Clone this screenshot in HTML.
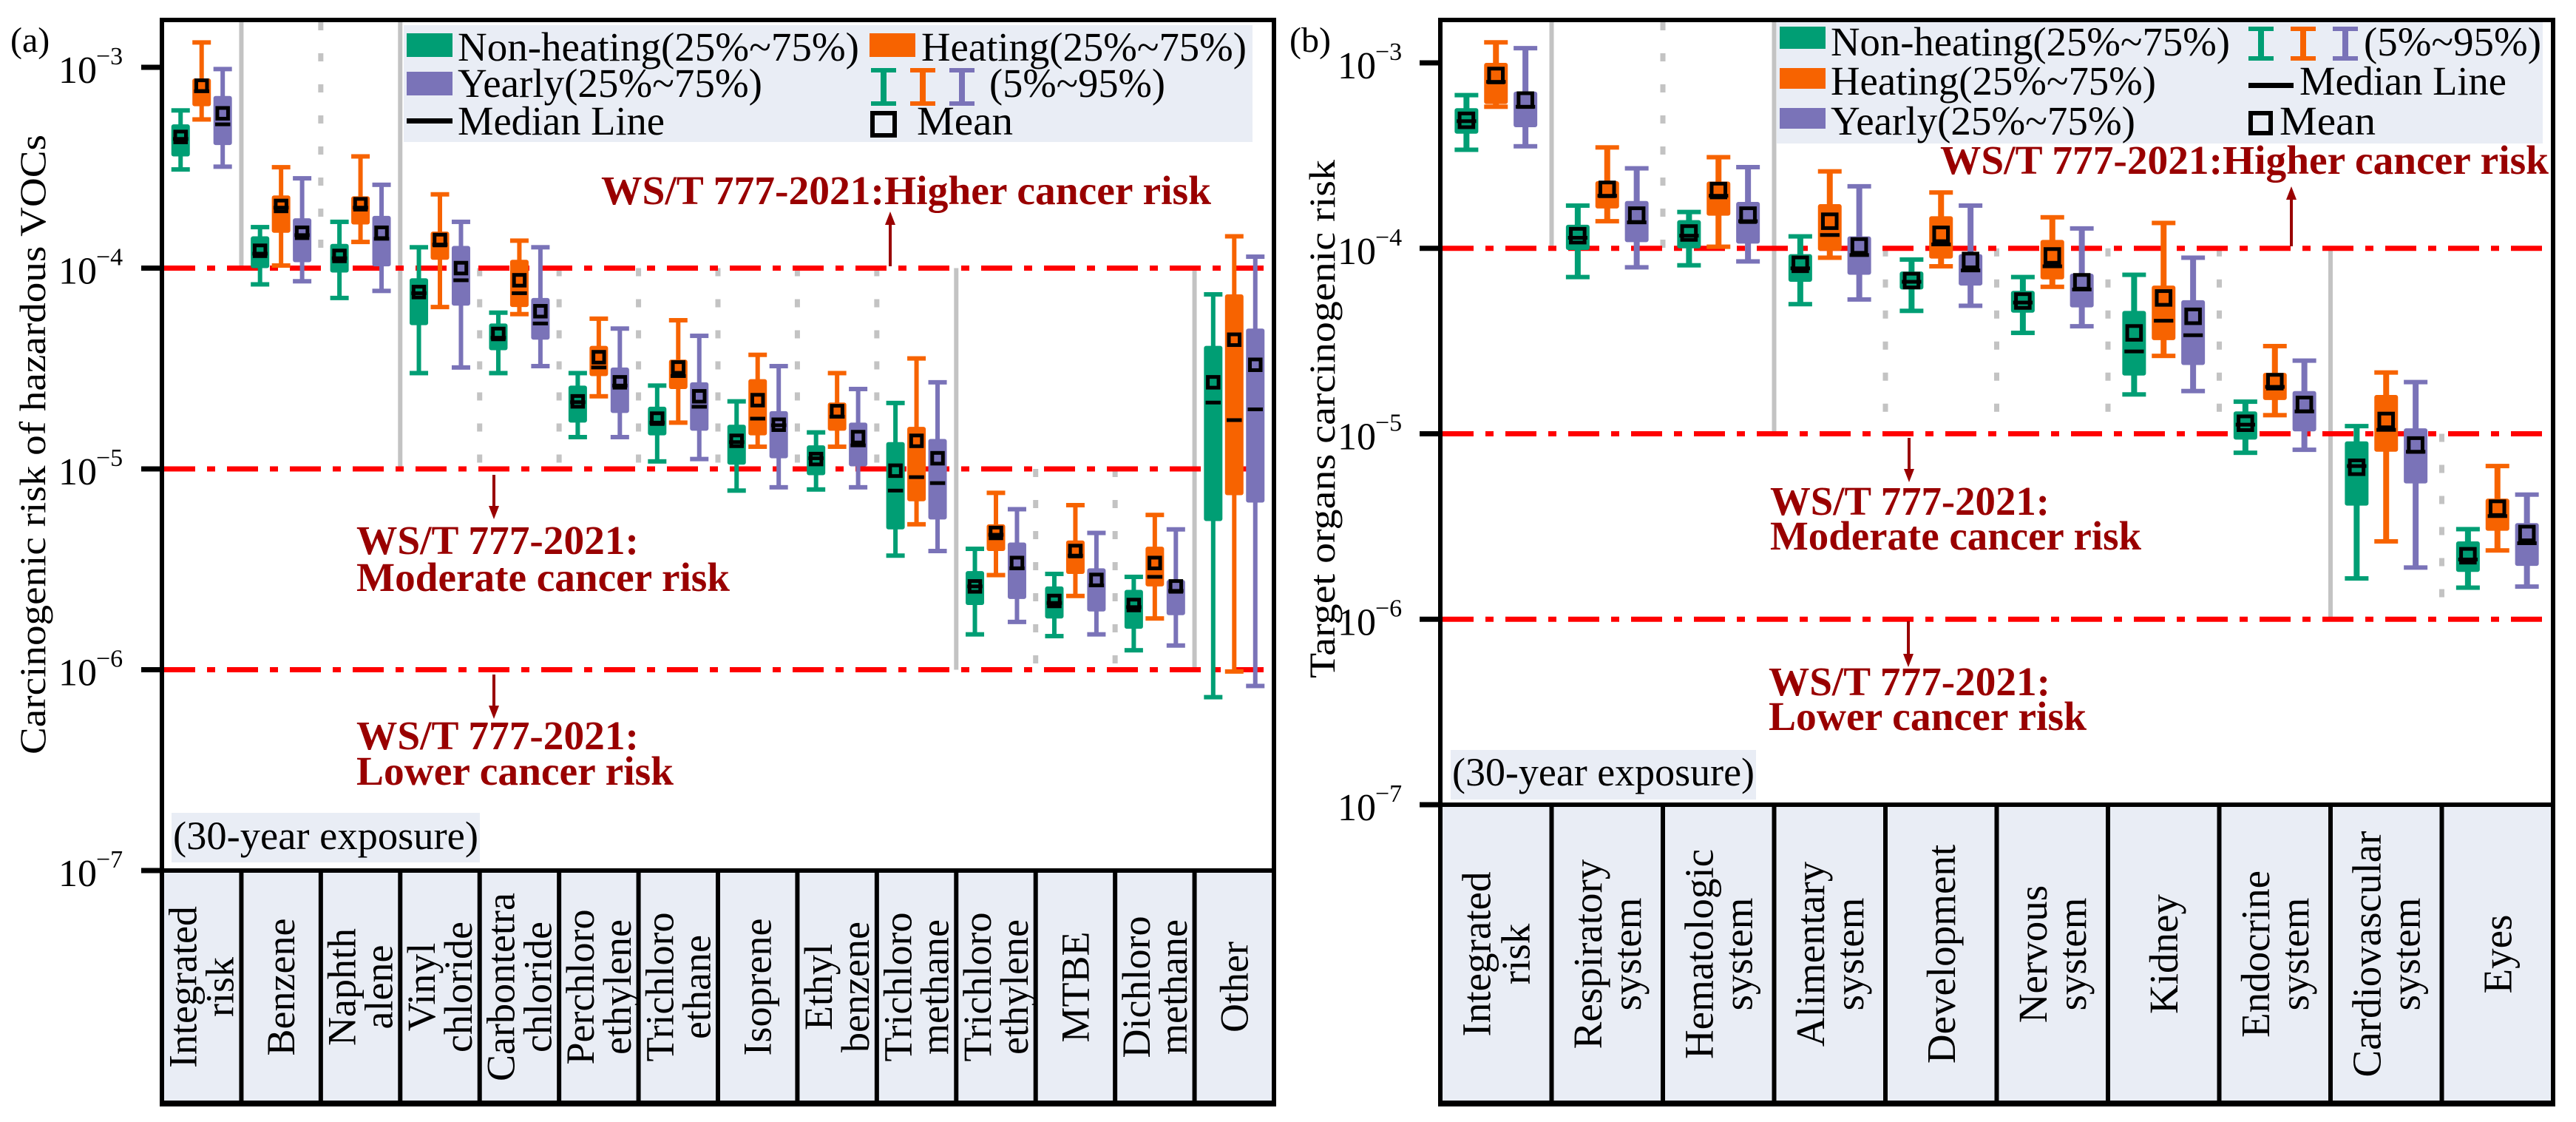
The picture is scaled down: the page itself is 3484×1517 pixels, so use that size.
<!DOCTYPE html>
<html><head><meta charset="utf-8"><title>Carcinogenic risk box plots</title>
<style>
html,body{margin:0;padding:0;background:#fff;}
svg{display:block;}
svg text{font-family:"Liberation Serif","Times New Roman",serif;}
</style></head>
<body>
<svg id="fig" xmlns="http://www.w3.org/2000/svg" width="3484" height="1517" viewBox="0 0 3484 1517" font-family="Liberation Serif, serif">
  <rect x="0" y="0" width="3484" height="1517" fill="#fff"/>
  <g id="panelA"></g>
  <g id="panelB"></g>
</svg>
<script>
// ---------- DATA (each tuple: [p5, q1, median, q3, p95, mean]) ----------
const categoriesA = ["Integrated|risk","Benzene","Naphth|alene","Vinyl|chloride","Carbontetra|chloride","Perchloro|ethylene","Trichloro|ethane","Isoprene","Ethyl|benzene","Trichloro|methane","Trichloro|ethylene","MTBE","Dichloro|methane","Other"];
const nonHeatingA = [
 [3.1e-4,3.6e-4,4.4e-4,5.2e-4,6.1e-4,4.5e-4],[8.3e-5,1.0e-4,1.18e-4,1.44e-4,1.6e-4,1.22e-4],
 [7.1e-5,9.5e-5,1.12e-4,1.32e-4,1.7e-4,1.15e-4],[3.0e-5,5.2e-5,7.5e-5,8.9e-5,1.27e-4,7.6e-5],
 [3.0e-5,3.9e-5,4.5e-5,5.3e-5,6.0e-5,4.7e-5],[1.44e-5,1.7e-5,2.15e-5,2.6e-5,3.0e-5,2.17e-5],
 [1.09e-5,1.47e-5,1.7e-5,2.04e-5,2.6e-5,1.78e-5],[7.8e-6,1.05e-5,1.36e-5,1.66e-5,2.17e-5,1.38e-5],
 [7.9e-6,9.3e-6,1.13e-5,1.31e-5,1.52e-5,1.12e-5],[3.7e-6,5.0e-6,7.8e-6,1.36e-5,2.13e-5,9.8e-6],
 [1.5e-6,2.1e-6,2.6e-6,3.1e-6,4.0e-6,2.6e-6],[1.47e-6,1.8e-6,2.15e-6,2.6e-6,3.0e-6,2.2e-6],
 [1.25e-6,1.6e-6,2.05e-6,2.5e-6,2.9e-6,2.1e-6],[7.3e-7,5.5e-6,2.14e-5,4.1e-5,7.4e-5,2.7e-5]];
const heatingA = [
 [5.5e-4,6.4e-4,7.6e-4,8.8e-4,1.33e-3,8.1e-4],[1.03e-4,1.5e-4,2.0e-4,2.3e-4,3.18e-4,2.04e-4],
 [1.35e-4,1.65e-4,2.0e-4,2.28e-4,3.6e-4,2.08e-4],[6.4e-5,1.1e-4,1.31e-4,1.52e-4,2.33e-4,1.38e-4],
 [5.9e-5,6.4e-5,7.5e-5,1.1e-4,1.37e-4,8.7e-5],[2.3e-5,2.9e-5,3.2e-5,4.1e-5,5.6e-5,3.6e-5],
 [1.7e-5,2.5e-5,2.9e-5,3.5e-5,5.5e-5,3.2e-5],[1.29e-5,1.47e-5,1.78e-5,2.8e-5,3.7e-5,2.2e-5],
 [1.29e-5,1.55e-5,1.82e-5,2.14e-5,3.0e-5,1.94e-5],[5.3e-6,6.9e-6,9.1e-6,1.62e-5,3.55e-5,1.38e-5],
 [2.96e-6,3.9e-6,4.7e-6,5.3e-6,7.6e-6,4.8e-6],[2.33e-6,3.0e-6,3.7e-6,4.4e-6,6.6e-6,3.9e-6],
 [1.8e-6,2.6e-6,2.9e-6,4.1e-6,5.9e-6,3.4e-6],[9.8e-7,7.4e-6,1.75e-5,7.4e-5,1.44e-4,4.4e-5]];
const yearlyA = [
 [3.2e-4,4.1e-4,5.2e-4,7.2e-4,9.8e-4,5.9e-4],[8.6e-5,1.07e-4,1.46e-4,1.77e-4,2.8e-4,1.5e-4],
 [7.7e-5,1.02e-4,1.4e-4,1.82e-4,2.6e-4,1.5e-4],[3.2e-5,6.5e-5,8.7e-5,1.29e-4,1.7e-4,1.0e-4],
 [3.25e-5,4.4e-5,5.3e-5,7.1e-5,1.27e-4,6.1e-5],[1.44e-5,1.9e-5,2.6e-5,3.2e-5,5.0e-5,2.7e-5],
 [1.12e-5,1.55e-5,2.04e-5,2.7e-5,4.6e-5,2.3e-5],[8.1e-6,1.13e-5,1.65e-5,1.94e-5,3.25e-5,1.66e-5],
 [8.1e-6,1.03e-5,1.31e-5,1.7e-5,2.5e-5,1.44e-5],[3.9e-6,5.6e-6,8.5e-6,1.41e-5,2.7e-5,1.13e-5],
 [1.73e-6,2.25e-6,3.2e-6,4.3e-6,6.3e-6,3.4e-6],[1.5e-6,1.95e-6,2.63e-6,3.2e-6,4.8e-6,2.8e-6],
 [1.32e-6,1.87e-6,2.47e-6,2.8e-6,5.0e-6,2.6e-6],[8.3e-7,6.8e-6,1.98e-5,5.0e-5,1.14e-4,3.3e-5]];

const categoriesB = ["Integrated|risk","Respiratory|system","Hematologic|system","Alimentary|system","Development","Nervous|system","Kidney","Endocrine|system","Cardiovascular|system","Eyes"];
const nonHeatingB = [
 [3.4e-4,4.15e-4,4.85e-4,5.7e-4,6.7e-4,4.9e-4],[7.0e-5,9.8e-5,1.14e-4,1.34e-4,1.7e-4,1.17e-4],
 [8.1e-5,1.0e-4,1.17e-4,1.42e-4,1.57e-4,1.21e-4],[5.0e-5,6.6e-5,7.8e-5,9.3e-5,1.16e-4,8.2e-5],
 [4.6e-5,6.0e-5,6.6e-5,7.5e-5,8.7e-5,6.7e-5],[3.5e-5,4.5e-5,5.1e-5,5.9e-5,7.0e-5,5.2e-5],
 [1.63e-5,2.06e-5,2.78e-5,4.6e-5,7.2e-5,3.5e-5],[7.9e-6,9.3e-6,1.12e-5,1.32e-5,1.49e-5,1.14e-5],
 [1.66e-6,4.1e-6,6.7e-6,9.1e-6,1.1e-5,6.6e-6],[1.48e-6,1.8e-6,2.1e-6,2.63e-6,3.06e-6,2.2e-6]];
const heatingB = [
 [5.8e-4,6.0e-4,7.9e-4,1.0e-3,1.29e-3,8.55e-4],[1.4e-4,1.64e-4,1.92e-4,2.3e-4,3.5e-4,2.08e-4],
 [1.02e-4,1.5e-4,1.92e-4,2.29e-4,3.1e-4,2.05e-4],[8.9e-5,9.7e-5,1.18e-4,1.73e-4,2.6e-4,1.4e-4],
 [8.0e-5,8.8e-5,1.05e-4,1.49e-4,2.0e-4,1.19e-4],[6.2e-5,6.8e-5,8.0e-5,1.11e-4,1.47e-4,9.1e-5],
 [2.63e-5,3.2e-5,4.07e-5,6.3e-5,1.37e-4,5.4e-5],[1.26e-5,1.52e-5,1.79e-5,2.13e-5,2.97e-5,1.91e-5],
 [2.63e-6,8.0e-6,1.05e-5,1.62e-5,2.14e-5,1.18e-5],[2.35e-6,3.0e-6,3.6e-6,4.47e-6,6.7e-6,3.97e-6]];
const yearlyB = [
 [3.55e-4,4.5e-4,5.8e-4,7.0e-4,1.2e-3,6.3e-4],[7.9e-5,1.08e-4,1.38e-4,1.8e-4,2.7e-4,1.51e-4],
 [8.5e-5,1.06e-4,1.4e-4,1.78e-4,2.74e-4,1.51e-4],[5.3e-5,7.2e-5,9.2e-5,1.16e-4,2.16e-4,1.03e-4],
 [4.9e-5,6.3e-5,7.6e-5,9.3e-5,1.7e-4,8.6e-5],[3.8e-5,4.8e-5,6.0e-5,7.3e-5,1.28e-4,6.6e-5],
 [1.7e-5,2.35e-5,3.4e-5,5.25e-5,8.9e-5,4.3e-5],[8.2e-6,1.03e-5,1.32e-5,1.7e-5,2.48e-5,1.44e-5],
 [1.9e-6,5.4e-6,8.0e-6,1.07e-5,1.9e-5,8.7e-6],[1.5e-6,1.94e-6,2.57e-6,3.3e-6,4.7e-6,2.9e-6]];

const tickExponents = [-3,-4,-5,-6,-7];
const thresholdValues = [1e-4,1e-5,1e-6];
// ---------- END DATA ----------

const NS = "http://www.w3.org/2000/svg";
const FONT = "Liberation Serif, Times New Roman, serif";
const COLORS = ["#009e74","#f76300","#7a73b8"];
const SERIES_NAMES = ["non-heating","heating","yearly"];
const CAT_BG = "#e9edf5";

function mk(parent, tag, attrs, txt){
  const e = document.createElementNS(NS, tag);
  for (const k in attrs) e.setAttribute(k, attrs[k]);
  if (tag === "text") e.setAttribute("font-family", FONT);
  if (txt !== undefined) e.textContent = txt;
  parent.appendChild(e);
  return e;
}

const panels = [
 {g:"panelA", left:219, right:1723, top:27, bottom:1177, tableBottom:1492, decade:271.5, boxW:25, cats:categoriesA,
  series:[nonHeatingA,heatingA,yearlyA], catFont:54, lineGap:50,
  seps:[[1,'s',null,1e-4],[2,'d',null,1e-4],[3,'s',null,1e-5],[4,'d',1e-4,1e-5],[5,'d',1e-4,1e-5],[6,'d',1e-4,1e-5],[7,'d',1e-4,1e-5],[8,'d',1e-4,1e-5],[9,'d',1e-4,1e-5],[10,'s',1e-4,1e-6],[11,'d',1e-5,1e-6],[12,'d',1e-5,1e-6],[13,'s',1e-4,1e-6]],
  tickLabelX:79, tickLen:28, label:"(a)", labelX:14,
  title:"Carcinogenic risk of hazardous VOCs", titleX:44, titleY0:182, titleY1:1020,
  expo:{x:232,y:1099,w:417,h:67,tx:234,ty:1148,len:413}},
 {g:"panelB", left:1948, right:3453, top:27, bottom:1088, tableBottom:1492, decade:250.75, boxW:32, cats:categoriesB,
  series:[nonHeatingB,heatingB,yearlyB], catFont:55, lineGap:53,
  seps:[[1,'s',null,1e-4],[2,'d',null,1e-4],[3,'s',null,1e-5],[4,'d',1e-4,1e-5],[5,'d',1e-4,1e-5],[6,'d',1e-4,1e-5],[7,'d',1e-4,1e-5],[8,'s',1e-4,1e-6],[9,'d',1e-5,1e-6]],
  tickLabelX:1809, tickLen:28, label:"(b)", labelX:1744,
  title:"Target organs carcinogenic risk", titleX:1788, titleY0:216, titleY1:917,
  expo:{x:1962,y:1014,w:413,h:67,tx:1964,ty:1062,len:409}}
];

panels.forEach(function(P){
  const G = document.getElementById(P.g);
  const nC = P.cats.length;
  const cw = (P.right - P.left) / nC;
  const yScale = function(v){ return P.bottom - (Math.log10(v) + 7) * P.decade; };
  const xCat = function(i){ return P.left + i * cw; };
  const offs = [0.235, 0.5, 0.765];

  const tbl = mk(G, "rect", {x:P.left, y:P.bottom, width:P.right-P.left, height:P.tableBottom-P.bottom, fill:CAT_BG});
  
  
  for (let i = 1; i < nC; i++){
    const d = mk(G, "line", {x1:xCat(i), x2:xCat(i), y1:P.bottom, y2:P.tableBottom, stroke:"#000", "stroke-width":6});
    
    
  }
  P.cats.forEach(function(c, i){
    const parts = c.split("|");
    const cx = xCat(i) + cw/2, cy = (P.bottom + P.tableBottom)/2;
    parts.forEach(function(p, j){
      const lx = cx + (j - (parts.length-1)/2) * P.lineGap;
      const t = mk(G, "text", {x:lx, y:cy, transform:"rotate(-90 "+lx+" "+cy+")", "text-anchor":"middle", "dominant-baseline":"central", "font-size":P.catFont, fill:"#000"}, p);
      
      
    });
  });

  P.seps.forEach(function(s){
    const x = xCat(s[0]);
    const y1 = s[2] === null ? P.top + 3 : yScale(s[2]);
    const y2 = yScale(s[3]);
    const attrs = {x1:x, x2:x, y1:y1, y2:y2, stroke:"#c3c3c3", "stroke-width":s[1]==='s'?6:7};
    if (s[1]==='d') attrs["stroke-dasharray"] = "11 31";
    const l = mk(G, "line", attrs);
    
    
  });

  thresholdValues.forEach(function(v){
    const y = yScale(v);
    const l = mk(G, "line", {x1:P.left+3, x2:P.right-3, y1:y, y2:y, stroke:"#ff0000", "stroke-width":7, "stroke-dasharray":"42 16 11 16"});
    
    
  });

  P.series.forEach(function(arr, s){
    arr.forEach(function(d, i){
      const cx = xCat(i) + offs[s] * cw;
      const w = P.boxW;
      const grp = mk(G, "g", {});
      
      
      const yLo = yScale(d[0]), yQ1 = yScale(d[1]), yMed = yScale(d[2]), yQ3 = yScale(d[3]), yHi = yScale(d[4]), yMean = yScale(d[5]);
      const wl = mk(grp, "line", {x1:cx, x2:cx, y1:yHi, y2:yLo, stroke:COLORS[s], "stroke-width":Math.round(w*0.24)});
      
      
      const c1 = mk(grp, "rect", {x:cx-w/2, y:yHi-3, width:w, height:6, fill:COLORS[s]});
      
      
      const c2 = mk(grp, "rect", {x:cx-w/2, y:yLo-3, width:w, height:6, fill:COLORS[s]});
      
      
      const b = mk(grp, "rect", {x:cx-w/2, y:yQ3, width:w, height:Math.max(2, yQ1-yQ3), rx:3, fill:COLORS[s]});
      
      
      const mw = w*0.82;
      const m = mk(grp, "rect", {x:cx-mw/2, y:yMed-2.5, width:mw, height:5, fill:"#000"});
      
      
      const sq = w*0.58;
      const mn = mk(grp, "rect", {x:cx-sq/2, y:yMean-sq/2, width:sq, height:sq, fill:"none", stroke:"#000", "stroke-width":5});
      
      
    });
  });

  const fr = mk(G, "rect", {x:P.left, y:P.top, width:P.right-P.left, height:P.bottom-P.top, fill:"none", stroke:"#000", "stroke-width":6});
  
  
  const sl = mk(G, "line", {x1:P.left, x2:P.left, y1:P.bottom, y2:P.tableBottom+4, stroke:"#000", "stroke-width":6});
  
  
  const sr = mk(G, "line", {x1:P.right, x2:P.right, y1:P.bottom, y2:P.tableBottom+4, stroke:"#000", "stroke-width":6});
  
  
  const bl = mk(G, "line", {x1:P.left-3, x2:P.right+3, y1:P.tableBottom, y2:P.tableBottom, stroke:"#000", "stroke-width":8});
  
  

  tickExponents.forEach(function(e){
    const y = yScale(Math.pow(10, e));
    const tk = mk(G, "line", {x1:P.left-P.tickLen, x2:P.left, y1:y, y2:y, stroke:"#000", "stroke-width":7});
    
    
    const t = mk(G, "text", {x:P.tickLabelX, y:y+21, "font-size":52, fill:"#000"}, "10");
    
    
    const sup = mk(G, "text", {x:P.tickLabelX+51, y:y-4, "font-size":34, fill:"#000"}, "\u2212" + Math.abs(e));
    
    
  });

  const tcy = (P.titleY0 + P.titleY1)/2;
  const tt = mk(G, "text", {x:P.titleX, y:tcy, transform:"rotate(-90 "+P.titleX+" "+tcy+")", "text-anchor":"middle", "dominant-baseline":"central", "font-size":50, textLength:(P.titleY1-P.titleY0), lengthAdjust:"spacingAndGlyphs", fill:"#000"}, P.title);
  
  

  const pl = mk(G, "text", {x:P.labelX, y:70, "font-size":48, fill:"#000"}, P.label);
  
  

  const eb = mk(G, "rect", {x:P.expo.x, y:P.expo.y, width:P.expo.w, height:P.expo.h, fill:CAT_BG});
  
  
  const et = mk(G, "text", {x:P.expo.tx, y:P.expo.ty, "font-size":54, textLength:P.expo.len, lengthAdjust:"spacingAndGlyphs", fill:"#000"}, "(30-year exposure)");
  
  
});

function legendRect(x,y,w,h,color,name){
  const r = mk(document.getElementById("fig"), "rect", {x:x,y:y,width:w,height:h,fill:color});
  
  
}
function legendText(x,y,txt,len,name){
  const t = mk(document.getElementById("fig"), "text", {x:x,y:y,"font-size":55,textLength:len,lengthAdjust:"spacingAndGlyphs",fill:"#000"}, txt);
  
  
}
function legendIbar(x,y0,y1,color){
  const svg = document.getElementById("fig");
  const w = 34;
  const g = mk(svg, "g", {});
  
  
  mk(g, "rect", {x:x, y:y0, width:w, height:6, fill:color});
  mk(g, "rect", {x:x, y:y1-6, width:w, height:6, fill:color});
  mk(g, "rect", {x:x+w/2-4, y:y0, width:8, height:y1-y0, fill:color});
}
function legendMean(x,y,s){
  const r = mk(document.getElementById("fig"), "rect", {x:x+3,y:y+3,width:s-6,height:s-6,fill:"none",stroke:"#000","stroke-width":6});
  
  
}
legendRect(546,34,1148,158,CAT_BG,'legend-a-background');
legendRect(550,45,62,32,COLORS[0],'legend-a-nonheating-swatch');
legendText(619,82,"Non-heating(25%~75%)",543,'legend-a-nonheating-label');
legendRect(1176,45,62,32,COLORS[1],'legend-a-heating-swatch');
legendText(1246,82,"Heating(25%~75%)",440,'legend-a-heating-label');
legendRect(550,97,62,32,COLORS[2],'legend-a-yearly-swatch');
legendText(619,131,"Yearly(25%~75%)",412,'legend-a-yearly-label');
legendIbar(1178,92,143,COLORS[0]);
legendIbar(1231,92,143,COLORS[1]);
legendIbar(1284,92,143,COLORS[2]);
legendText(1338,131,"(5%~95%)",238,'legend-a-range-label');
legendRect(550,160,62,7,"#000",'legend-a-median-symbol');
legendText(619,182,"Median Line",280,'legend-a-median-label');
legendMean(1177,150,36);
legendText(1240,182,"Mean",130,'legend-a-mean-label');
legendRect(2403,30,1036,164,CAT_BG,'legend-b-background');
legendRect(2407,36,62,30,COLORS[0],'legend-b-nonheating-swatch');
legendText(2476,75,"Non-heating(25%~75%)",540,'legend-b-nonheating-label');
legendRect(2407,92,62,28,COLORS[1],'legend-b-heating-swatch');
legendText(2476,128,"Heating(25%~75%)",440,'legend-b-heating-label');
legendRect(2407,146,62,28,COLORS[2],'legend-b-yearly-swatch');
legendText(2476,182,"Yearly(25%~75%)",412,'legend-b-yearly-label');
legendIbar(3041,36,82,COLORS[0]);
legendIbar(3098,36,82,COLORS[1]);
legendIbar(3155,36,82,COLORS[2]);
legendText(3197,75,"(5%~95%)",240,'legend-b-range-label');
legendRect(3041,112,61,7,"#000",'legend-b-median-symbol');
legendText(3110,128,"Median Line",280,'legend-b-median-label');
legendMean(3041,150,33);
legendText(3083,182,"Mean",130,'legend-b-mean-label');

function annText(x,y,txt,len,name){
  const t = mk(document.getElementById("fig"), "text", {x:x,y:y,"font-size":55,"font-weight":"bold",textLength:len,lengthAdjust:"spacingAndGlyphs",fill:"#990000"}, txt);
  
  
}
function arrow(x,y0,y1,name){
  const svg = document.getElementById("fig");
  const g = mk(svg, "g", {});
  
  
  const dir = y1 > y0 ? 1 : -1;
  mk(g, "line", {x1:x, x2:x, y1:y0, y2:y1 - dir*14, stroke:"#990000", "stroke-width":4});
  mk(g, "polygon", {points:(x-7)+","+(y1-dir*18)+" "+(x+7)+","+(y1-dir*18)+" "+x+","+y1, fill:"#990000"});
}
annText(813,276,"WS/T 777-2021:Higher cancer risk",825,'annotation-a-higher');
arrow(1204,360,286,'arrow-a-higher');
arrow(668,642,702,'arrow-a-moderate');
annText(482,749,"WS/T 777-2021:",382,'annotation-a-moderate-code');
annText(482,799,"Moderate cancer risk",505,'annotation-a-moderate');
arrow(668,912,972,'arrow-a-lower');
annText(482,1013,"WS/T 777-2021:",382,'annotation-a-lower-code');
annText(482,1061,"Lower cancer risk",429,'annotation-a-lower');
annText(2624,235,"WS/T 777-2021:Higher cancer risk",823,'annotation-b-higher');
arrow(3099,333,252,'arrow-b-higher');
arrow(2582,592,652,'arrow-b-moderate');
annText(2394,696,"WS/T 777-2021:",378,'annotation-b-moderate-code');
annText(2394,743,"Moderate cancer risk",502,'annotation-b-moderate');
arrow(2581,840,902,'arrow-b-lower');
annText(2392,940,"WS/T 777-2021:",381,'annotation-b-lower-code');
annText(2392,987,"Lower cancer risk",430,'annotation-b-lower');
</script>
</body></html>
